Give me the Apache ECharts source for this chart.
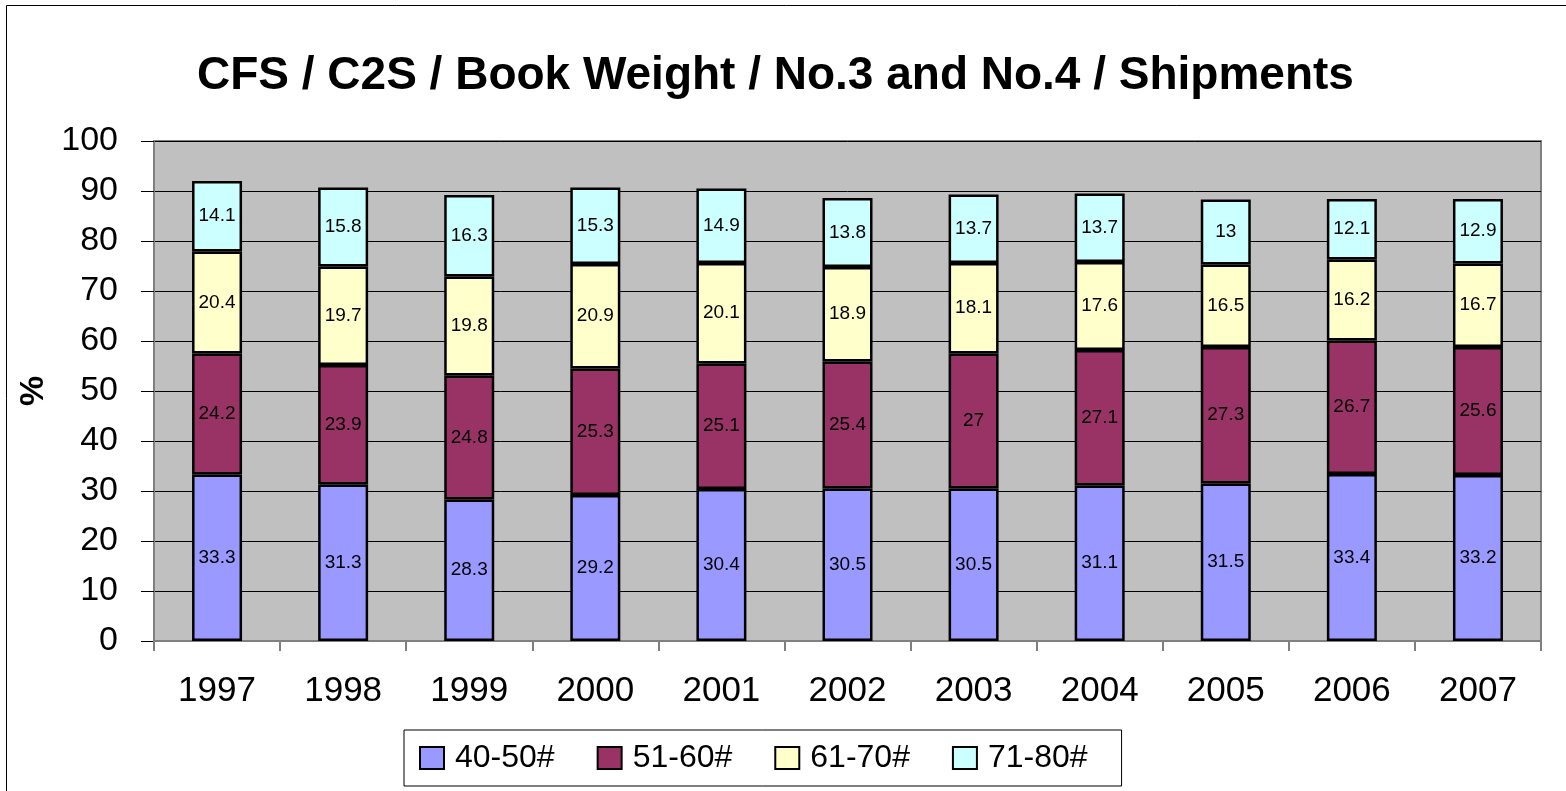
<!DOCTYPE html>
<html>
<head>
<meta charset="utf-8">
<style>
  html, body { margin: 0; padding: 0; background: #fff; }
  #chart { width: 1566px; height: 791px; }
</style>
<script src="https://cdn.jsdelivr.net/npm/echarts@6/dist/echarts.min.js"></script>
</head>
<body>
<div id="chart"></div>
<script>
const years = ['1997', '1998', '1999', '2000', '2001', '2002', '2003', '2004', '2005', '2006', '2007'];
const w40_50 = [33.3, 31.3, 28.3, 29.2, 30.4, 30.5, 30.5, 31.1, 31.5, 33.4, 33.2];
const w51_60 = [24.2, 23.9, 24.8, 25.3, 25.1, 25.4, 27, 27.1, 27.3, 26.7, 25.6];
const w61_70 = [20.4, 19.7, 19.8, 20.9, 20.1, 18.9, 18.1, 17.6, 16.5, 16.2, 16.7];
const w71_80 = [14.1, 15.8, 16.3, 15.3, 14.9, 13.8, 13.7, 13.7, 13, 12.1, 12.9];

const font = 'Liberation Sans, Arial, sans-serif';

function bar(name, data, color) {
  return {
    name: name,
    type: 'bar',
    stack: 'total',
    barWidth: 50,
    data: data,
    itemStyle: { color: color, borderColor: '#000', borderWidth: 2.5 },
    label: {
      show: true,
      position: 'inside',
      color: '#000',
      fontFamily: font,
      fontSize: 19
    }
  };
}

const chart = echarts.init(document.getElementById('chart'));
chart.setOption({
  animation: false,
  textStyle: { fontFamily: font },
  graphic: [{
    type: 'rect',
    shape: { x: 6.5, y: 5.5, width: 1600, height: 900 },
    style: { fill: 'none', stroke: '#000', lineWidth: 1 },
    silent: true
  }],
  title: {
    text: 'CFS / C2S / Book Weight / No.3 and No.4 / Shipments',
    left: 192,
    top: 48,
    padding: 5,
    textStyle: { fontFamily: font, fontSize: 46, fontWeight: 'bold', color: '#000' }
  },
  legend: {
    left: 404,
    top: 730,
    padding: [12, 34, 12, 15],
    backgroundColor: '#fff',
    borderColor: '#000',
    borderWidth: 1,
    itemWidth: 24,
    itemHeight: 22,
    itemGap: 42,
    icon: 'rect',
    itemStyle: { borderColor: '#000', borderWidth: 2 },
    textStyle: { fontFamily: font, fontSize: 32, color: '#000', width: 117, padding: [0, 0, 0, 6] },
    data: ['40-50#', '51-60#', '61-70#', '71-80#']
  },
  grid: {
    left: 154, right: 25, top: 141, bottom: 150,
    show: true,
    backgroundColor: '#C0C0C0',
    borderColor: '#808080',
    borderWidth: 2
  },
  xAxis: {
    type: 'category',
    data: years,
    axisLine: { lineStyle: { color: '#808080', width: 2 } },
    axisTick: { show: true, length: 10, lineStyle: { color: '#808080', width: 2 } },
    axisLabel: { color: '#000', fontSize: 35, fontFamily: font, margin: 33 }
  },
  yAxis: {
    type: 'value',
    min: 0,
    max: 100,
    interval: 10,
    name: '%',
    nameLocation: 'middle',
    nameRotate: 90,
    nameGap: 96,
    nameTextStyle: { fontSize: 34, fontWeight: 'bold', color: '#000', fontFamily: font },
    axisLine: { show: true, lineStyle: { color: '#808080', width: 2 } },
    axisTick: { show: true, length: 13, lineStyle: { color: '#000', width: 1 } },
    axisLabel: { color: '#000', fontSize: 34, fontFamily: font, margin: 36 },
    splitLine: { show: true, lineStyle: { color: '#000', width: 1 } }
  },
  series: [
    bar('40-50#', w40_50, '#9999FF'),
    bar('51-60#', w51_60, '#993366'),
    bar('61-70#', w61_70, '#FFFFCC'),
    bar('71-80#', w71_80, '#CCFFFF')
  ]
});
</script>
</body>
</html>
